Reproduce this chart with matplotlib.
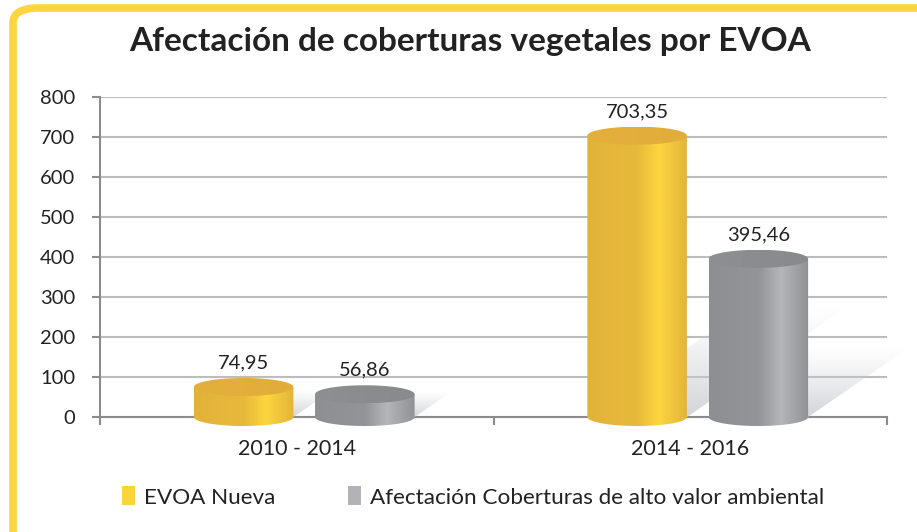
import numpy as np
import matplotlib
matplotlib.use("Agg")
import matplotlib.pyplot as plt
from matplotlib.colors import LinearSegmentedColormap, to_rgba
from matplotlib.patches import Polygon, Patch, FancyBboxPatch

plt.rcParams['font.family'] = ['Lato', 'DejaVu Sans']

categories = ['2010 - 2014', '2014 - 2016']
series_names = ['EVOA Nueva', 'Afectación Coberturas de alto valor ambiental']
evoa_nueva = [74.95, 703.35]
alto_valor = [56.86, 395.46]
y_ticks = [0, 100, 200, 300, 400, 500, 600, 700, 800]

W, H = 917, 532
fig = plt.figure(figsize=(W / 100, H / 100), dpi=100)
fig.patch.set_facecolor('white')

# yellow rounded frame (left / top visible)
frame = FancyBboxPatch((13 / W, -40 / H), 960 / W, (H - 8 + 40) / H,
                       boxstyle="round,pad=0,rounding_size=0.028",
                       transform=fig.transFigure, facecolor='none',
                       edgecolor='#FDD63F', linewidth=5.5, zorder=0)
fig.patches.append(frame)

# main axes in pixel layout
ax_l, ax_r, ax_t, ax_b = 100, 887, 97, 417
ax = fig.add_axes([ax_l / W, (H - ax_b) / H, (ax_r - ax_l) / W, (ax_b - ax_t) / H])
ax.set_xlim(-0.5, 1.5)
ax.set_ylim(0, 800)
ax.set_yticks(y_ticks)
ax.set_yticklabels([str(t) for t in y_ticks], fontsize=14.5, color='#222222')
ax.yaxis.grid(True, color='#BDBDBD', linewidth=1.5)
ax.set_axisbelow(True)
ax.set_xticks([-0.5, 0.5, 1.5])
ax.set_xticklabels([])
ax.set_xticks([0, 1], minor=True)
ax.set_xticklabels(categories, minor=True, fontsize=15.5, color='#222222')
ax.tick_params(axis='x', which='minor', length=0, pad=16)
ax.tick_params(axis='x', which='major', length=6, width=1.5, color='#8C8C8C', direction='out')
ax.tick_params(axis='y', length=6, width=1.5, color='#8C8C8C', pad=12)
for s in ['top', 'right']:
    ax.spines[s].set_visible(False)
for s in ['left', 'bottom']:
    ax.spines[s].set_color('#8C8C8C')
    ax.spines[s].set_linewidth(1.5)

# overlay axes covering the whole figure with the same data mapping
xpp = 2.0 / (ax_r - ax_l)
ypp = 800.0 / (ax_b - ax_t)
ov = fig.add_axes([0, 0, 1, 1], zorder=5)
ov.axis('off')
ov.patch.set_alpha(0)

bar_w = 0.253
offsets = [-0.135, 0.173]
eh = 9 * ypp  # ellipse half height (data)

yellow_body = LinearSegmentedColormap.from_list(
    'yb', [(0, '#E2B33B'), (0.5, '#E7B93A'), (0.72, '#FDD63F'), (1, '#E4B43B')])
gray_body = LinearSegmentedColormap.from_list(
    'gb', [(0, '#8E8F93'), (0.5, '#939498'), (0.72, '#B5B6BA'), (1, '#909195')])
yellow_top = LinearSegmentedColormap.from_list('yt', ['#E3B03B', '#E4AE3C', '#E2AC3B'])
gray_top = LinearSegmentedColormap.from_list('gt', ['#8E8F93', '#8B8C90', '#898A8E'])
styles = [(yellow_body, yellow_top), (gray_body, gray_top)]

hgrad = np.linspace(0, 1, 256).reshape(1, -1)


def add_shadow(xc, v):
    xl, xr = xc - bar_w / 2, xc + bar_w / 2
    hs = 0.33 * v + 45
    dx = 1.45 * (hs / ypp) * xpp
    poly = Polygon([(xl, 0), (xr, 0), (xr + dx, hs), (xl + dx, hs)], closed=True,
                   facecolor='none', edgecolor='none')
    ov.add_patch(poly)
    c = np.array(to_rgba('#C9CBD0'))
    img = np.zeros((128, 1, 4))
    img[:, 0, :3] = c[:3]
    img[:, 0, 3] = np.linspace(0, 0.85, 128) ** 1.2
    # row 0 (transparent) at the top
    im = ov.imshow(img, extent=[xl, xr + dx, 0, hs], origin='upper',
                   aspect='auto', interpolation='bilinear', zorder=1)
    im.set_clip_path(poly)


def add_cylinder(xc, v, body_cmap, top_cmap):
    xl, xr = xc - bar_w / 2, xc + bar_w / 2
    t = np.linspace(np.pi, 2 * np.pi, 80)
    bottom = np.column_stack([xc + bar_w / 2 * np.cos(t), eh * np.sin(t)])
    verts = np.vstack([[[xl, v]], bottom, [[xr, v]]])
    body = Polygon(verts, closed=True, facecolor='none', edgecolor='none')
    ov.add_patch(body)
    im = ov.imshow(hgrad, extent=[xl, xr, -eh, v], aspect='auto', cmap=body_cmap,
                   interpolation='bicubic', zorder=3)
    im.set_clip_path(body)
    tt = np.linspace(0, 2 * np.pi, 120)
    top = Polygon(np.column_stack([xc + bar_w / 2 * np.cos(tt), v + eh * np.sin(tt)]),
                  closed=True, facecolor='none', edgecolor='none')
    ov.add_patch(top)
    im2 = ov.imshow(hgrad, extent=[xl, xr, v - eh, v + eh], aspect='auto', cmap=top_cmap,
                    interpolation='bicubic', zorder=4)
    im2.set_clip_path(top)
    ov.annotate(f"{v:.2f}".replace('.', ','), (xc, v), xytext=(0, 24),
                textcoords='offset pixels', ha='center', va='center',
                fontsize=14.5, color='#222222', zorder=6)


series = [evoa_nueva, alto_valor]
for i in range(len(categories)):
    for k, vals in enumerate(series):
        add_shadow(i + offsets[k], vals[i])
for i in range(len(categories)):
    for k, vals in enumerate(series):
        add_cylinder(i + offsets[k], vals[i], *styles[k])

ov.set_xlim(-0.5 - ax_l * xpp, 1.5 + (W - ax_r) * xpp)
ov.set_ylim(-(H - ax_b) * ypp, 800 + ax_t * ypp)

fig.text(470 / W, 1 - 42 / H, 'Afectación de coberturas vegetales por EVOA',
         ha='center', va='center', fontsize=24, fontweight='bold', color='#222222')

handles = [Patch(facecolor='#FDD33A', edgecolor='none'),
           Patch(facecolor='#B2B3B7', edgecolor='none')]
fig.legend(handles, series_names, loc='center', bbox_to_anchor=(473 / W, 1 - 497 / H),
           ncol=2, frameon=False, fontsize=16.2, handlelength=0.6, handleheight=0.9,
           handletextpad=0.4, columnspacing=3.2, labelcolor='#222222')

fig.savefig('out.png', dpi=100, facecolor='white')
